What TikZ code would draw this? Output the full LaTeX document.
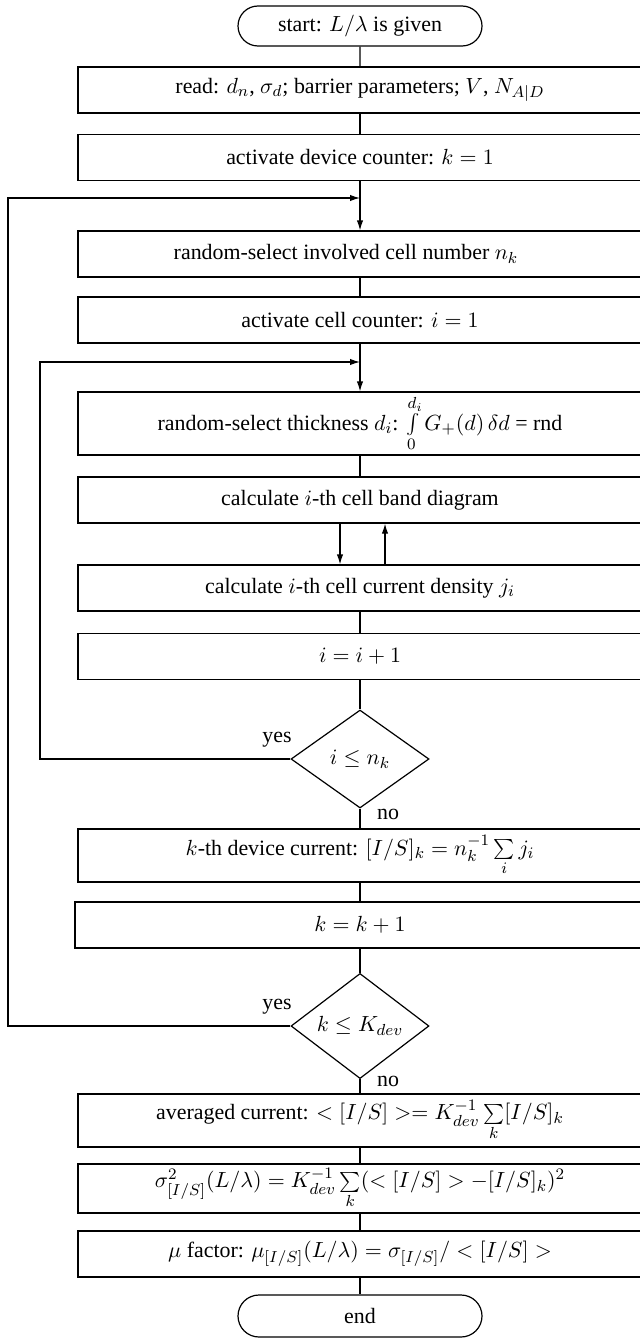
\documentclass[tikz,border=0pt]{standalone}
\usepackage{fontspec}
\setmainfont{Liberation Serif}
\usetikzlibrary{shapes.geometric,shapes.misc,arrows.meta}
\tikzset{box/.style={draw,rectangle,minimum width=282pt,minimum height=23pt,inner sep=0pt},
  term/.style={draw,rounded rectangle,minimum width=122pt,minimum height=20pt,inner sep=0pt},
  cond/.style={draw,diamond,minimum width=69pt,minimum height=49pt,inner sep=0pt}}
\begin{document}
\begin{tikzpicture}[x=0.5pt,y=-0.5pt,line width=0.6pt,>={Latex[length=5pt,width=3.2pt]},font=\fontsize{10.95}{13.6}\selectfont]
        \useasboundingbox (0,0) rectangle (639,1338);
        \node [term] (start) at (360,26) {start: $L/\lambda$ is given};
        \node [box] (read) at (360,90) {read: $d_n$, $\sigma_d$; barrier parameters; $V$, $N_{A|D}$};
        \node [box] (devctr) at (360,157.5) {activate device counter: $k=1$};
        \node [box] (nsel) at (360,254) {random-select involved cell number $n_k$\hspace*{14pt}};
        \node [box] (cellctr) at (360,320) {activate cell counter: $i=1$};
        \node [box,minimum height=31.5pt] (thick) at (360,423.5) {random-select thickness $d_i$: $\int\limits_0^{d_i} G_+(d)\,\delta d$ = rnd};
        \node [box] (band) at (360,500) {calculate $i$-th cell band diagram};
        \node [box] (dens) at (360,588) {calculate $i$-th cell current density $j_i$};
        \node [box] (incr) at (360,656.5) {$i=i+1$};
        \node [cond] (ileq) at (360,759) {$i\le n_k$};
        \node [box,minimum height=26.5pt] (devcur) at (360,855.5) {$k$-th device current: $[I/S]_k=n_k^{-1}\sum\limits_i j_i$};
        \node [box,minimum width=285pt] (kincr) at (360,925) {$k=k+1$};
        \node [cond] (kleq) at (360,1026) {$k\le K_{dev}$};
        \node [box,minimum height=26.5pt] (avg) at (360,1120.5) {averaged current: $<[I/S]>=K_{dev}^{-1}\sum\limits_k[I/S]_k$};
        \node [box,minimum height=24.5pt] (var) at (360,1188.5) {$\sigma^2_{[I/S]}(L/\lambda)=K_{dev}^{-1}\sum\limits_k(<[I/S]>-[I/S]_k)^2$};
        \node [box] (mu) at (360,1254) {$\mu$ factor: $\mu_{[I/S]}(L/\lambda)=\sigma_{[I/S]}/<[I/S]>$};
        \node [term,minimum height=21pt] (end) at (360,1316) {end};
        \node (yes1) at (277,740) {yes};
        \node (no1) at (388,814) {no};
        \node (yes2) at (277,1007) {yes};
        \node (no2) at (388,1081) {no};
        \coordinate (oj) at (360,198);
        \coordinate (oc) at (8,198);
        \coordinate (ij) at (360,362);
        \coordinate (ic) at (40,362);
        \draw (start)--(read);
        \draw (read)--(devctr);
        \draw [->] (devctr)--(nsel);
        \draw (nsel)--(cellctr);
        \draw [->] (cellctr)--(thick);
        \draw (thick)--(band);
        \draw [->] ([xshift=-10pt]band.south)--([xshift=-10pt]dens.north);
        \draw [->] ([xshift=12.5pt]dens.north)--([xshift=12.5pt]band.south);
        \draw (dens)--(incr);
        \draw (incr)--(ileq);
        \draw (ileq)--(devcur);
        \draw [->] (ileq.west) -| (ic)--(ij);
        \draw (devcur)--(kincr);
        \draw (kincr)--(kleq);
        \draw (kleq)--(avg);
        \draw [->] (kleq.west) -| (oc)--(oj);
        \draw (avg)--(var);
        \draw (var)--(mu);
        \draw (mu)--(end);
      \end{tikzpicture}
\end{document}
